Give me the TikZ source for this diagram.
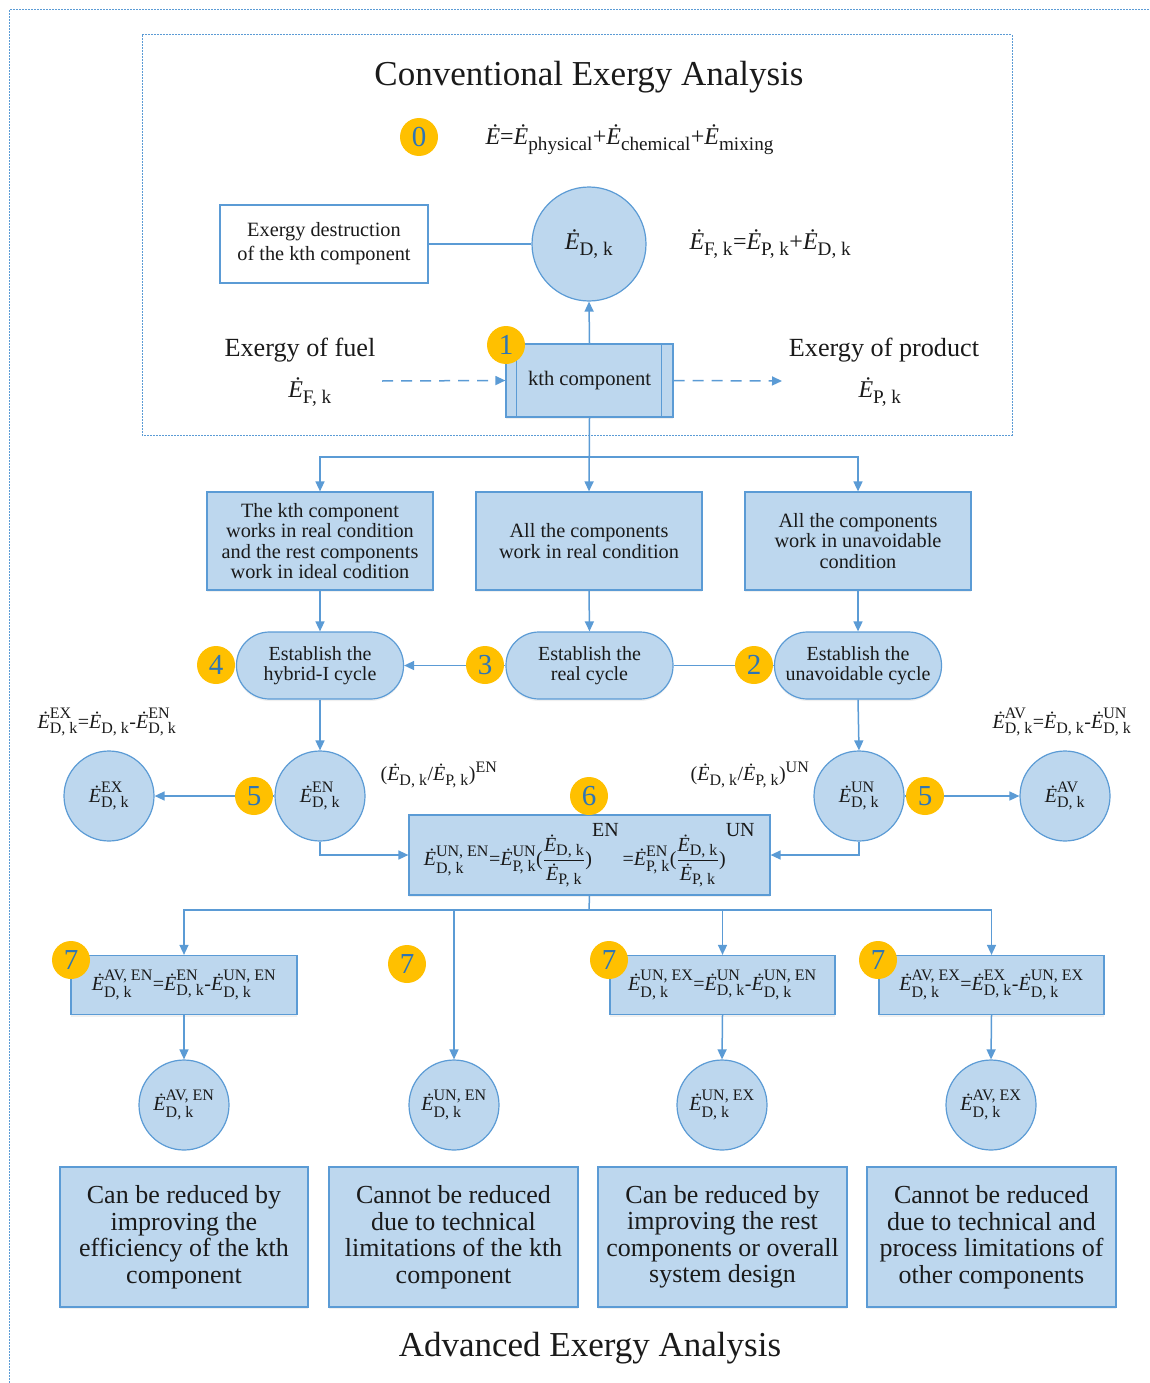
\documentclass[tikz,border=0pt]{standalone}
\usepackage{fontspec}
\usepackage{amsmath}
\setmainfont{Liberation Serif}
\setsansfont{Liberation Serif}
\renewcommand{\familydefault}{\rmdefault}
\usetikzlibrary{arrows.meta,shadows}
\makeatletter
\def\defaultscriptratio{.8}
\def\defaultscriptscriptratio{.6}
\makeatother
\definecolor{bfill}{HTML}{BDD7EE}
\definecolor{bline}{HTML}{5B9BD5}
\definecolor{badgec}{HTML}{FFC000}
\definecolor{digitc}{HTML}{2E75B6}
\definecolor{txtc}{HTML}{1A1A1A}
\newcommand{\EE}{\text{\itshape Ė}}
\newcommand{\Ex}[2]{$\EE^{\text{\upshape #1}}_{\text{\upshape #2}}$}
\newcommand{\fs}[1]{\rmfamily\fontsize{#1}{#1}\selectfont}
\newcommand{\fsl}[2]{\rmfamily\fontsize{#1}{#2}\selectfont}
\begin{document}
\begin{tikzpicture}[x=1pt,y=-1pt,
  every node/.style={text=txtc},
  bx/.style={draw=bline, fill=bfill, line width=1.2pt, align=center, inner sep=0pt,
    drop shadow={opacity=0.12, shadow xshift=0pt, shadow yshift=-2pt}},
  wbx/.style={draw=bline, fill=white, line width=1.2pt, align=center, inner sep=0pt},
  circ/.style={circle, draw=bline, fill=bfill, line width=1.2pt, inner sep=0pt, minimum size=90pt},
  stad/.style={bx, rounded corners=33pt, minimum width=167pt, minimum height=67pt, font=\fsl{20}{20.5}},
  badge/.style={circle, fill=badgec, minimum size=38pt, inner sep=0pt, text=digitc, font=\fs{29}},
  arr/.style={draw=bline, line width=1.5pt, -{Triangle[length=10pt,width=9pt]}},
  ln/.style={draw=bline, line width=1.5pt},
  dots/.style={draw=bline, line width=1pt, dash pattern=on 2pt off 1pt},
  txtm/.style={font=\fsl{20.3}{20.5}},
  txtl/.style={font=\fsl{26}{26.5}},
  eq/.style={font=\fs{24}},
  eqs/.style={font=\fs{20}}
]
\useasboundingbox (0,0) rectangle (1149,1383);
% frames
\draw[dots] (9,1383) -- (9,10) -- (1149,10);
\draw[dots] (142,35) rectangle (1012,435);

% conventional part
\node[font=\fs{35}] (title) at (589,77) {Conventional Exergy Analysis};
\node[eq, anchor=west] (f0) at (482,140) {$\EE$=\Ex{}{physical}+\Ex{}{chemical}+\Ex{}{mixing}};
\node[wbx, minimum width=208pt, minimum height=78pt, font=\fsl{20.3}{24}] (dest) at (324,244) {Exergy destruction\\of the kth component};
\node[circ, minimum size=114pt, eq] (ED) at (589,244) {\Ex{}{D, k}};
\node[eq, anchor=west] (fF) at (686,244) {\Ex{}{F, k}=\Ex{}{P, k}+\Ex{}{D, k}};
\node[bx, minimum width=167pt, minimum height=73pt, font=\fs{20.6}] (kth) at (589.5,380.5) {kth component};
\draw[draw=bline, line width=1.2pt] ([xshift=11pt]kth.north west) -- ([xshift=11pt]kth.south west);
\draw[draw=bline, line width=1.2pt] ([xshift=-12pt]kth.north east) -- ([xshift=-12pt]kth.south east);
\node[font=\fs{26.2}] (fuel) at (300,350) {Exergy of fuel};
\node[eq] (EF) at (310,392) {\Ex{}{F, k}};
\node[font=\fs{26.2}] (prod) at (884,350) {Exergy of product};
\node[eq] (EP) at (880,392) {\Ex{}{P, k}};
\coordinate (fin) at (382,381);
\coordinate (pout) at (782,381);
\draw[arr, dash pattern=on 11pt off 8pt] (fin) -- (kth.west);
\draw[arr, dash pattern=on 11pt off 8pt] (kth.east) -- (pout);
\draw[arr] (kth.north) -- (ED.south);
\draw[ln] (dest.east) -- (ED.west);

% second row boxes
\node[bx, minimum width=226pt, minimum height=98pt, txtm] (A) at (320,541) {The kth component\\works in real condition\\and the rest components\\work in ideal codition};
\node[bx, minimum width=226pt, minimum height=98pt, txtm] (B) at (589,541) {All the components\\work in real condition};
\node[bx, minimum width=226pt, minimum height=98pt, txtm] (C) at (858,541) {All the components\\work in unavoidable\\condition};
\coordinate (j1) at (589,457);
\draw[arr] (kth.south) -- (B.north);
\draw[arr] (j1) -| (A.north);
\draw[arr] (j1) -| (C.north);

% cycles
\node[stad, align=center] (H) at (320,665.5) {Establish the\\hybrid-I cycle};
\node[stad, align=center] (R) at (589.5,665.5) {Establish the\\real cycle};
\node[stad, align=center] (U) at (858,665.5) {Establish the\\unavoidable cycle};
\draw[arr] (A.south) -- (H.north);
\draw[arr] (B.south) -- (R.north);
\draw[arr] (C.south) -- (U.north);
\draw[arr] (R.west) -- (H.east);
\draw[ln] (U.west) -- (R.east);

% EN / EX / UN / AV
\node[circ, eqs] (EN) at (320,796) {\Ex{EN}{D, k}};
\node[circ, eqs] (EX) at (109,796) {\Ex{EX}{D, k}};
\node[circ, eqs] (UN) at (859,796) {\Ex{UN}{D, k}};
\node[circ, eqs] (AV) at (1065,796) {\Ex{AV}{D, k}};
\draw[arr] (H.south) -- (EN.north);
\draw[arr] (U.south) -- (UN.north);
\draw[arr] (EN.west) -- (EX.east);
\draw[arr] (UN.east) -- (AV.west);
\node[eqs] (fEX) at (107,722) {\Ex{EX}{D, k}=\Ex{}{D, k}-\Ex{EN}{D, k}};
\node[eqs] (fAV) at (1062,722) {\Ex{AV}{D, k}=\Ex{}{D, k}-\Ex{UN}{D, k}};
\node[eqs] (rEN) at (439,775) {(\Ex{}{D, k}/\Ex{}{P, k})$^{\text{\upshape EN}}$};
\node[eqs] (rUN) at (750,775) {(\Ex{}{D, k}/\Ex{}{P, k})$^{\text{\upshape UN}}$};

% box 6
\node[bx, minimum width=361pt, minimum height=80pt, eqs] (S6) at (589.5,855) {\Ex{UN, EN}{D, k}=\Ex{UN}{P, k}($\dfrac{\EE_{\text{\upshape D, k}}}{\EE_{\text{\upshape P, k}}}$)$^{\raisebox{22pt}{\text{\upshape EN}}}$\,=\Ex{EN}{P, k}($\dfrac{\EE_{\text{\upshape D, k}}}{\EE_{\text{\upshape P, k}}}$)$^{\raisebox{22pt}{\text{\upshape UN}}}$};
\draw[arr] (EN.south) |- (S6.west);
\draw[arr] (UN.south) |- (S6.east);

% row 7
\node[bx, minimum width=226pt, minimum height=59pt, eqs] (S1) at (184,985) {\Ex{AV, EN}{D, k}=\Ex{EN}{D, k}-\Ex{UN, EN}{D, k}};
\node[bx, minimum width=225pt, minimum height=59pt, eqs] (S3) at (722.5,985) {\Ex{UN, EX}{D, k}=\Ex{UN}{D, k}-\Ex{UN, EN}{D, k}};
\node[bx, minimum width=225pt, minimum height=59pt, eqs] (S4) at (991.5,985) {\Ex{AV, EX}{D, k}=\Ex{EX}{D, k}-\Ex{UN, EX}{D, k}};
\node[circ, eqs] (C1) at (184,1105) {\Ex{AV, EN}{D, k}};
\node[circ, eqs] (C2) at (454,1105) {\Ex{UN, EN}{D, k}};
\node[circ, eqs] (C3) at (722,1105) {\Ex{UN, EX}{D, k}};
\node[circ, eqs] (C4) at (991,1105) {\Ex{AV, EX}{D, k}};
\coordinate (j2) at (589,910);
\draw[ln] (S6.south) -- (j2);
\draw[arr] (j2) -| (S1.north);
\draw[arr] (j2) -| (C2.north);
\draw[arr] (j2) -| (S3.north);
\draw[arr] (j2) -| (S4.north);
\draw[arr] (S1.south) -- (C1.north);
\draw[arr] (S3.south) -- (C3.north);
\draw[arr] (S4.south) -- (C4.north);

% bottom boxes
\node[bx, minimum width=248pt, minimum height=140pt, txtl] (D1) at (184,1237) {Can be reduced by\\improving the\\efficiency of the kth\\component};
\node[bx, minimum width=249pt, minimum height=140pt, txtl] (D2) at (453.5,1237) {Cannot be reduced\\due to technical\\limitations of the kth\\component};
\node[bx, minimum width=249pt, minimum height=140pt, txtl] (D3) at (722.5,1237) {Can be reduced by\\improving the rest\\components or overall\\system design};
\node[bx, minimum width=249pt, minimum height=140pt, txtl] (D4) at (991.5,1237) {Cannot be reduced\\due to technical and\\process limitations of\\other components};
\node[font=\fs{35}] (title2) at (590,1348) {Advanced Exergy Analysis};

% badges
\node[badge] (b0) at (419,137) {0};
\node[badge] (b1) at (506,345) {1};
\node[badge] (b2) at (754,665) {2};
\node[badge] (b3) at (485,665) {3};
\node[badge] (b4) at (216,665) {4};
\node[badge] (b5a) at (254,796) {5};
\node[badge] (b5b) at (925,796) {5};
\node[badge] (b6) at (589,796) {6};
\node[badge] (b7a) at (71,960) {7};
\node[badge] (b7b) at (407,964) {7};
\node[badge] (b7c) at (609,960) {7};
\node[badge] (b7d) at (878,960) {7};
\end{tikzpicture}
\end{document}
